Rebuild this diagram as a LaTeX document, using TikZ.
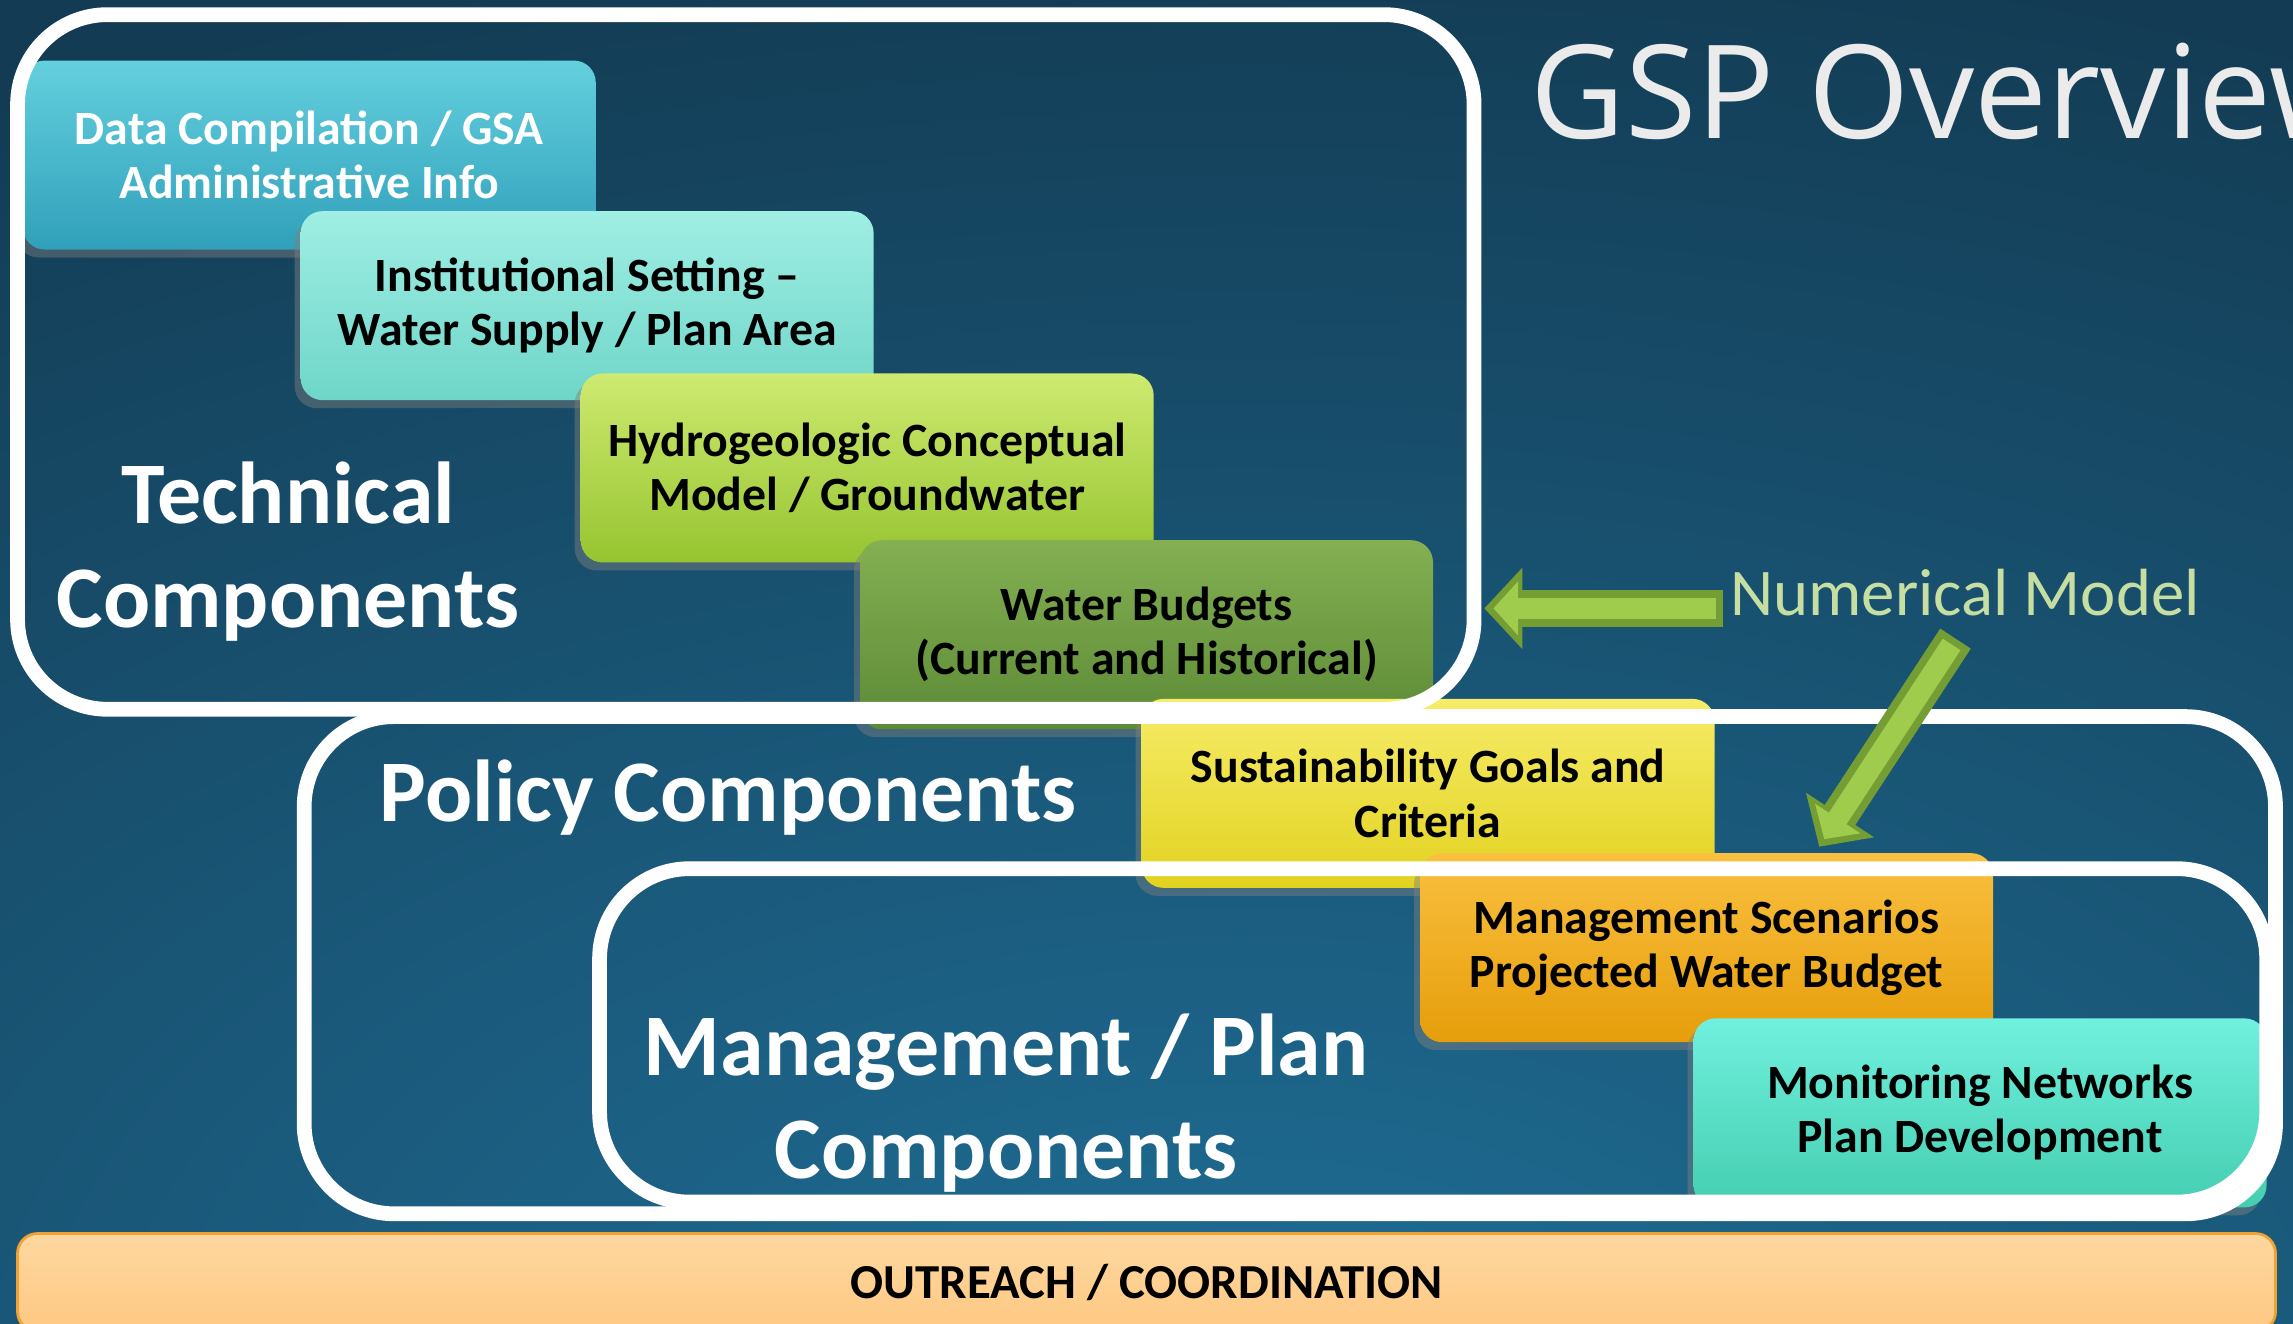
\documentclass[tikz,border=0pt]{standalone}
\usepackage{fontspec}
\setmainfont{Carlito}
\newfontfamily\titlefont{Open Sans}
\usetikzlibrary{arrows.meta}
\usetikzlibrary{shadows}
\usetikzlibrary{positioning}
\definecolor{bgdark}{RGB}{19,60,84}
\definecolor{bglight}{RGB}{31,110,150}
\definecolor{arrowdark}{RGB}{116,158,52}
\definecolor{arrowlight}{RGB}{160,204,78}
\definecolor{nmgreen}{RGB}{198,222,162}
\definecolor{datatop}{RGB}{100,208,222}
\definecolor{databot}{RGB}{48,160,186}
\definecolor{insttop}{RGB}{160,238,228}
\definecolor{instbot}{RGB}{110,214,200}
\definecolor{hydrotop}{RGB}{206,234,112}
\definecolor{hydrobot}{RGB}{150,196,48}
\definecolor{watertop}{RGB}{132,176,82}
\definecolor{waterbot}{RGB}{92,138,54}
\definecolor{susttop}{RGB}{246,236,104}
\definecolor{sustbot}{RGB}{226,210,32}
\definecolor{scentop}{RGB}{250,192,64}
\definecolor{scenbot}{RGB}{230,158,10}
\definecolor{monittop}{RGB}{112,240,222}
\definecolor{monitbot}{RGB}{68,206,176}
\definecolor{reachtop}{RGB}{254,216,160}
\definecolor{reachbot}{RGB}{254,200,130}
\definecolor{reachline}{RGB}{240,162,52}
\tikzset{card/.style = {rounded corners=2.2mm, minimum width=57.3mm, minimum height=18.9mm,
                        align=center, text=black, font=\bfseries\fontsize{13.6}{15.4}\selectfont,
                        drop shadow={opacity=0.45, shadow xshift=-0.6mm, shadow yshift=-0.8mm}},
         frame/.style = {draw=white, line width=4.2pt, rounded corners=9mm},
         biglabel/.style = {text=white, align=center, font=\bfseries\fontsize{25}{29.5}\selectfont},
         fatarrow/.style = {draw=arrowdark, line width=10.4pt,
                            -{Triangle[width=22.5pt, length=10.8pt]}},
         fatarrowin/.style = {draw=arrowlight, line width=6pt,
                              -{Triangle[width=15pt, length=7pt]},
                              shorten >=2.6pt, shorten <=2pt}}

\begin{document}
\begin{tikzpicture}[x=0.14624mm, y=-0.14624mm]
    \useasboundingbox (0, 0) rectangle (1568, 905);
    \clip (0, 0) rectangle (1568, 905);

    % slide background
    \fill [bgdark] (0, 0) rectangle (1568, 905);
    \shade [inner color=bglight, outer color=bgdark] (-950, -50) rectangle (2650, 1950);

    % the seven steps
    \node [card, top color=datatop, bottom color=databot, text=white] (data) at (211.5, 106)
        {Data Compilation / GSA\\Administrative Info};
    \node [card, top color=insttop, bottom color=instbot] (inst) at (401.5, 209)
        {Institutional Setting –\\Water Supply / Plan Area};
    \node [card, top color=hydrotop, bottom color=hydrobot] (hydro) at (593, 320)
        {Hydrogeologic Conceptual\\Model / Groundwater};
    \node [card, top color=watertop, bottom color=waterbot] (water) at (784, 434)
        {Water Budgets\\(Current and Historical)};
    \node [card, top color=susttop, bottom color=sustbot] (sust) at (976.5, 542.5)
        {Sustainability Goals and\\Criteria};
    \node [card, top color=scentop, bottom color=scenbot] (scen) at (1167, 648)
        {Management Scenarios\\Projected Water Budget};
    \node [card, top color=monittop, bottom color=monitbot] (monit) at (1354, 761)
        {Monitoring Networks\\Plan Development};

    % groups
    \draw [frame] (12, 10) rectangle (1008, 485);
    \draw [frame] (208, 490) rectangle (1556, 830);
    \draw [frame] (410, 594) rectangle (1550, 822);

    \node [biglabel, anchor=base] (tech) at (197, 429) {Technical\\Components};
    \node [biglabel, anchor=base] (policy) at (498, 562) {Policy Components};
    \node [biglabel, anchor=base] (manage) at (688, 806) {Management / Plan\\Components};

    % numerical model
    \node [anchor=base west, inner sep=2pt, text=nmgreen, font=\fontsize{19}{22}\selectfont]
        (nm) at (1178, 421) {Numerical Model};
    \coordinate (ttip) at (1015, 416);
    \coordinate (dtip) at (1244, 579);
    \draw [fatarrow] (nm.west |- ttip) -- (ttip);
    \draw [fatarrowin] (nm.west |- ttip) -- (ttip);
    \draw [fatarrow, shorten <=5pt] (nm.south) -- (dtip);
    \draw [fatarrowin, shorten <=7pt] (nm.south) -- (dtip);

    \node [anchor=base west, inner sep=0pt, text=white!92!black, font=\titlefont\fontsize{37}{44}\selectfont]
        (title) at (1046, 95) {GSP Overview};

    \node [draw=reachline, line width=0.8pt, top color=reachtop, bottom color=reachbot,
           rounded corners=2mm, minimum width=225.8mm, minimum height=9.8mm,
           font=\bfseries\fontsize{13.9}{16}\selectfont] (reach) at (784, 877)
        {OUTREACH / COORDINATION};
\end{tikzpicture}
\end{document}
